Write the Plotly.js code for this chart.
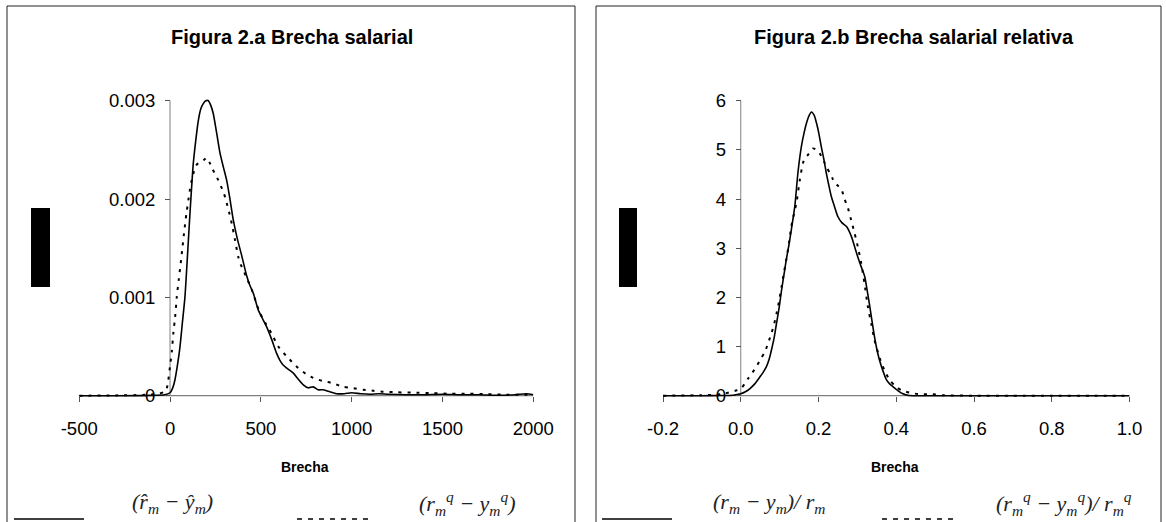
<!DOCTYPE html>
<html><head><meta charset="utf-8">
<script src="https://cdn.plot.ly/plotly-3.0.1.min.js"></script>
<style>html,body{margin:0;padding:0;background:#fff}#chart{width:1166px;height:522px}</style>
</head><body><div id="chart"></div>
<script>
// ---------- Data ----------
// Figura 2.a : Brecha salarial (density)
const xA_solid = [-500,-300,-100,-30,0,15,27,40,55,68,82,96,110,128,142,156,170,183,197,211,225,238,256,275,293,312,330,348,370,394,422,440,459,486,510,532,560,587,605,624,650,679,705,734,760,789,815,844,880,917,960,1000,1050,1100,1150,1200,1300,1400,1500,1600,1700,1800,1900,1960,2000];
const yA_solid = [0,0,0.000003,0.00001,0.00003,0.00008,0.00016,0.0003,0.0005,0.00074,0.001,0.00142,0.00186,0.00236,0.0026,0.0028,0.00292,0.00297,0.003,0.003,0.00295,0.00287,0.00268,0.00247,0.00233,0.00219,0.002,0.00179,0.0016,0.00143,0.00122,0.00112,0.00104,0.00087,0.00078,0.0007,0.00057,0.00043,0.00036,0.00031,0.00027,0.00023,0.00017,0.00011,0.00008,0.00009,0.00006,0.00006,0.00004,0.00002,0.00002,0.00003,0.00002,0.000015,0.00002,0.000015,0.00001,0.00001,0.000015,0.00001,0.00001,0.000005,0.00001,0.00002,0.00001];
const xA_dot = [-500,-300,-150,-60,-30,-20,-10,0,10,18,28,37,48,59,68,77,90,101,110,119,132,147,160,174,188,202,218,235,250,266,280,293,312,326,340,358,376,390,403,426,450,472,495,528,560,596,642,706,750,789,840,890,954,1000,1064,1120,1174,1250,1357,1450,1540,1650,1750,1850,1950,2000];
const yA_dot = [0,0.000003,0.000008,0.00002,0.00004,0.00006,0.00015,0.0003,0.00045,0.00063,0.0008,0.001,0.00118,0.00135,0.0015,0.00165,0.00185,0.00199,0.0021,0.00219,0.00228,0.00235,0.00237,0.00238,0.0024,0.00242,0.00237,0.0023,0.00225,0.00219,0.00213,0.00208,0.00196,0.00186,0.00175,0.00158,0.00141,0.00133,0.00128,0.00118,0.00108,0.00096,0.00084,0.00073,0.00063,0.0005,0.0004,0.00028,0.00022,0.00018,0.00015,0.00013,0.00009,0.00008,0.00006,0.00005,0.00004,0.000035,0.00003,0.000025,0.00002,0.00002,0.000015,0.00001,0.00001,0.00001];
const xA_ticks = [-500,0,500,1000,1500,2000];
const xA_ticktext = ["-500","0","500","1000","1500","2000"];
const yA_ticks = [0,0.001,0.002,0.003];
const yA_ticktext = ["0","0.001","0.002","0.003"];

// Figura 2.b : Brecha salarial relativa (density)
const xB_solid = [-0.2,-0.1,-0.05,-0.02,0,0.012,0.023,0.036,0.049,0.058,0.066,0.073,0.079,0.086,0.092,0.099,0.105,0.111,0.117,0.124,0.13,0.139,0.147,0.156,0.163,0.169,0.176,0.182,0.189,0.195,0.201,0.207,0.214,0.22,0.226,0.233,0.241,0.25,0.26,0.272,0.285,0.294,0.302,0.31,0.319,0.325,0.332,0.338,0.344,0.35,0.357,0.366,0.375,0.383,0.392,0.405,0.417,0.43,0.45,0.5,0.6,0.7,0.8,0.9,1.0];
const yB_solid = [0,0,0.005,0.01,0.04,0.08,0.14,0.24,0.38,0.48,0.59,0.74,0.93,1.18,1.47,1.8,2.15,2.45,2.76,3.07,3.37,3.85,4.53,5.07,5.35,5.54,5.7,5.77,5.7,5.54,5.33,5.07,4.8,4.53,4.3,4.05,3.85,3.64,3.52,3.44,3.23,3.0,2.8,2.62,2.42,2.15,1.81,1.5,1.2,0.95,0.72,0.5,0.32,0.24,0.18,0.1,0.04,0.01,0,0,0,0,0,0,0];
const xB_dot = [-0.2,-0.1,-0.05,-0.024,-0.01,0,0.01,0.019,0.03,0.04,0.051,0.062,0.07,0.079,0.086,0.092,0.099,0.105,0.111,0.117,0.124,0.13,0.137,0.143,0.152,0.16,0.166,0.173,0.18,0.186,0.195,0.203,0.21,0.216,0.222,0.229,0.236,0.242,0.25,0.259,0.266,0.276,0.284,0.293,0.302,0.31,0.318,0.327,0.336,0.344,0.353,0.362,0.372,0.383,0.398,0.413,0.435,0.46,0.49,0.52,0.6,0.7,0.8,0.9,1.0];
const yB_dot = [0,0.01,0.03,0.08,0.11,0.14,0.24,0.35,0.47,0.59,0.74,0.89,1.06,1.27,1.46,1.67,1.94,2.22,2.5,2.76,3.1,3.44,3.7,3.91,4.39,4.73,4.84,4.9,4.97,5.03,5.0,4.93,4.83,4.73,4.63,4.53,4.42,4.32,4.27,4.2,4.02,3.81,3.57,3.3,3.0,2.69,2.3,1.81,1.45,1.13,0.88,0.66,0.48,0.32,0.19,0.11,0.06,0.03,0.03,0.01,0,0,0,0,0];
const xB_ticks = [-0.2,0,0.2,0.4,0.6,0.8,1.0];
const xB_ticktext = ["-0.2","0.0","0.2","0.4","0.6","0.8","1.0"];
const yB_ticks = [0,1,2,3,4,5,6];
const yB_ticktext = ["0","1","2","3","4","5","6"];

const titles = ["Figura 2.a Brecha salarial", "Figura 2.b Brecha salarial relativa"];
const xTitle = "Brecha";
const legendA = ["(r\u0302<sub>m</sub> \u2212 \u0177<sub>m</sub>)", "(r<sub>m</sub><sup>q</sup> \u2212 y<sub>m</sub><sup>q</sup>)"];
const legendB = ["(r<sub>m</sub> \u2212 y<sub>m</sub>)/ r<sub>m</sub>", "(r<sub>m</sub><sup>q</sup> \u2212 y<sub>m</sub><sup>q</sup>)/ r<sub>m</sub><sup>q</sup>"];

// ---------- Layout geometry (pixels) ----------
const W = 1166, H = 522;
const fx = p => p / W, fy = p => 1 - p / H;
const PY0 = 395.7, PYTOP = 100.7;
function yDom(r0, r1, vTop) {
  const k = (PY0 - PYTOP) / vTop;
  return [fy(PY0 - r0 * k), fy(PY0 - r1 * k)];
}
const yRA = [-0.00004, 0.00304], yRB = [-0.08, 6.08];
const xDomA = [fx(79.2), fx(533.3)], xDomB = [fx(663), fx(1129.5)];
const posY = (dom, r) => dom[0] + (0 - r[0]) / (r[1] - r[0]) * (dom[1] - dom[0]);

const FONT = "Liberation Sans, Arial, sans-serif";
const tickFont = {family: FONT, size: 18.5, color: "#000"};
const axCommon = {showgrid: false, zeroline: false, showline: false, ticks: "outside",
  ticklen: 5, tickwidth: 1, tickcolor: "#555", tickfont: tickFont, fixedrange: true};

const solidLine = {color: "#000", width: 1.6, shape: "spline", smoothing: 0.6};
const dotLine = {color: "#000", width: 2, dash: "3px,6px", shape: "spline", smoothing: 0.6};

const traces = [
  {x: xA_solid, y: yA_solid, xaxis: "x", yaxis: "y", mode: "lines", line: solidLine, hoverinfo: "skip"},
  {x: xA_dot, y: yA_dot, xaxis: "x", yaxis: "y", mode: "lines", line: dotLine, hoverinfo: "skip"},
  {x: xB_solid, y: yB_solid, xaxis: "x2", yaxis: "y2", mode: "lines", line: solidLine, hoverinfo: "skip"},
  {x: xB_dot, y: yB_dot, xaxis: "x2", yaxis: "y2", mode: "lines", line: dotLine, hoverinfo: "skip"}
];

const xRA = [-500, 2000], xRB = [-0.2, 1.0];
const yDomA = yDom(yRA[0], yRA[1], 0.003), yDomB = yDom(yRB[0], yRB[1], 6);

const layout = {
  width: W, height: H, margin: {l: 0, r: 0, t: 0, b: 0},
  paper_bgcolor: "#fff", plot_bgcolor: "rgba(0,0,0,0)", showlegend: false,
  xaxis: Object.assign({}, axCommon, {domain: xDomA, range: xRA, tickvals: xA_ticks, ticktext: xA_ticktext,
    anchor: "free", position: fy(PY0), ticklabelstandoff: 11}),
  yaxis: Object.assign({}, axCommon, {domain: yDomA, range: yRA, tickvals: yA_ticks, ticktext: yA_ticktext,
    anchor: "free", position: posY(xDomA, xRA), ticklabelstandoff: 6}),
  xaxis2: Object.assign({}, axCommon, {domain: xDomB, range: xRB, tickvals: xB_ticks, ticktext: xB_ticktext,
    anchor: "free", position: fy(PY0), ticklabelstandoff: 11}),
  yaxis2: Object.assign({}, axCommon, {domain: yDomB, range: yRB, tickvals: yB_ticks, ticktext: yB_ticktext,
    anchor: "free", position: posY(xDomB, xRB), ticklabelstandoff: 6}),
  shapes: [
    {type: "rect", xref: "paper", yref: "paper", x0: fx(7), x1: fx(575), y0: fy(540), y1: fy(6), line: {color: "#222", width: 1}},
    {type: "rect", xref: "paper", yref: "paper", x0: fx(596), x1: fx(1161), y0: fy(540), y1: fy(6), line: {color: "#222", width: 1}},
    {type: "line", xref: "x", yref: "y", x0: xRA[0], x1: xRA[1], y0: 0, y1: 0, layer: "below", line: {color: "#808080", width: 1.3}},
    {type: "line", xref: "x", yref: "y", x0: 0, x1: 0, y0: 0, y1: 0.003, layer: "below", line: {color: "#808080", width: 1}},
    {type: "line", xref: "x2", yref: "y2", x0: xRB[0], x1: xRB[1], y0: 0, y1: 0, layer: "below", line: {color: "#808080", width: 1.3}},
    {type: "line", xref: "x2", yref: "y2", x0: 0, x1: 0, y0: 0, y1: 6, layer: "below", line: {color: "#808080", width: 1}},
    {type: "rect", xref: "paper", yref: "paper", x0: fx(31), x1: fx(50), y0: fy(287), y1: fy(208), fillcolor: "#000", line: {width: 0}},
    {type: "rect", xref: "paper", yref: "paper", x0: fx(619), x1: fx(637), y0: fy(287), y1: fy(208), fillcolor: "#000", line: {width: 0}},
    {type: "line", xref: "paper", yref: "paper", x0: fx(14), x1: fx(84), y0: fy(519), y1: fy(519), line: {color: "#000", width: 1.3}},
    {type: "line", xref: "paper", yref: "paper", x0: fx(297), x1: fx(370), y0: fy(519), y1: fy(519), line: {color: "#000", width: 1.5, dash: "5px,6px"}},
    {type: "line", xref: "paper", yref: "paper", x0: fx(602), x1: fx(672), y0: fy(519), y1: fy(519), line: {color: "#000", width: 1.3}},
    {type: "line", xref: "paper", yref: "paper", x0: fx(882), x1: fx(957), y0: fy(519), y1: fy(519), line: {color: "#000", width: 1.5, dash: "5px,6px"}}
  ],
  annotations: []
};
const ann = (text, cx, cy, font) => layout.annotations.push({text, x: fx(cx), y: fy(cy), xref: "paper", yref: "paper",
  xanchor: "center", yanchor: "middle", showarrow: false, font});
const titleFont = {family: FONT, size: 20, color: "#000", weight: "bold"};
ann(titles[0], 292, 37, titleFont);
ann(titles[1], 914, 37, titleFont);
const xtFont = {family: FONT, size: 14, color: "#000", weight: "bold"};
ann(xTitle, 305, 467, xtFont);
ann(xTitle, 895, 467, xtFont);
const legFont = {family: "Liberation Serif, DejaVu Serif, serif", size: 22, color: "#222", style: "italic"};
ann(legendA[0], 172, 503, legFont);
ann(legendA[1], 467, 503, legFont);
ann(legendB[0], 769, 503, legFont);
ann(legendB[1], 1064, 503, legFont);

Plotly.newPlot("chart", traces, layout, {staticPlot: true, displayModeBar: false});
</script></body></html>
